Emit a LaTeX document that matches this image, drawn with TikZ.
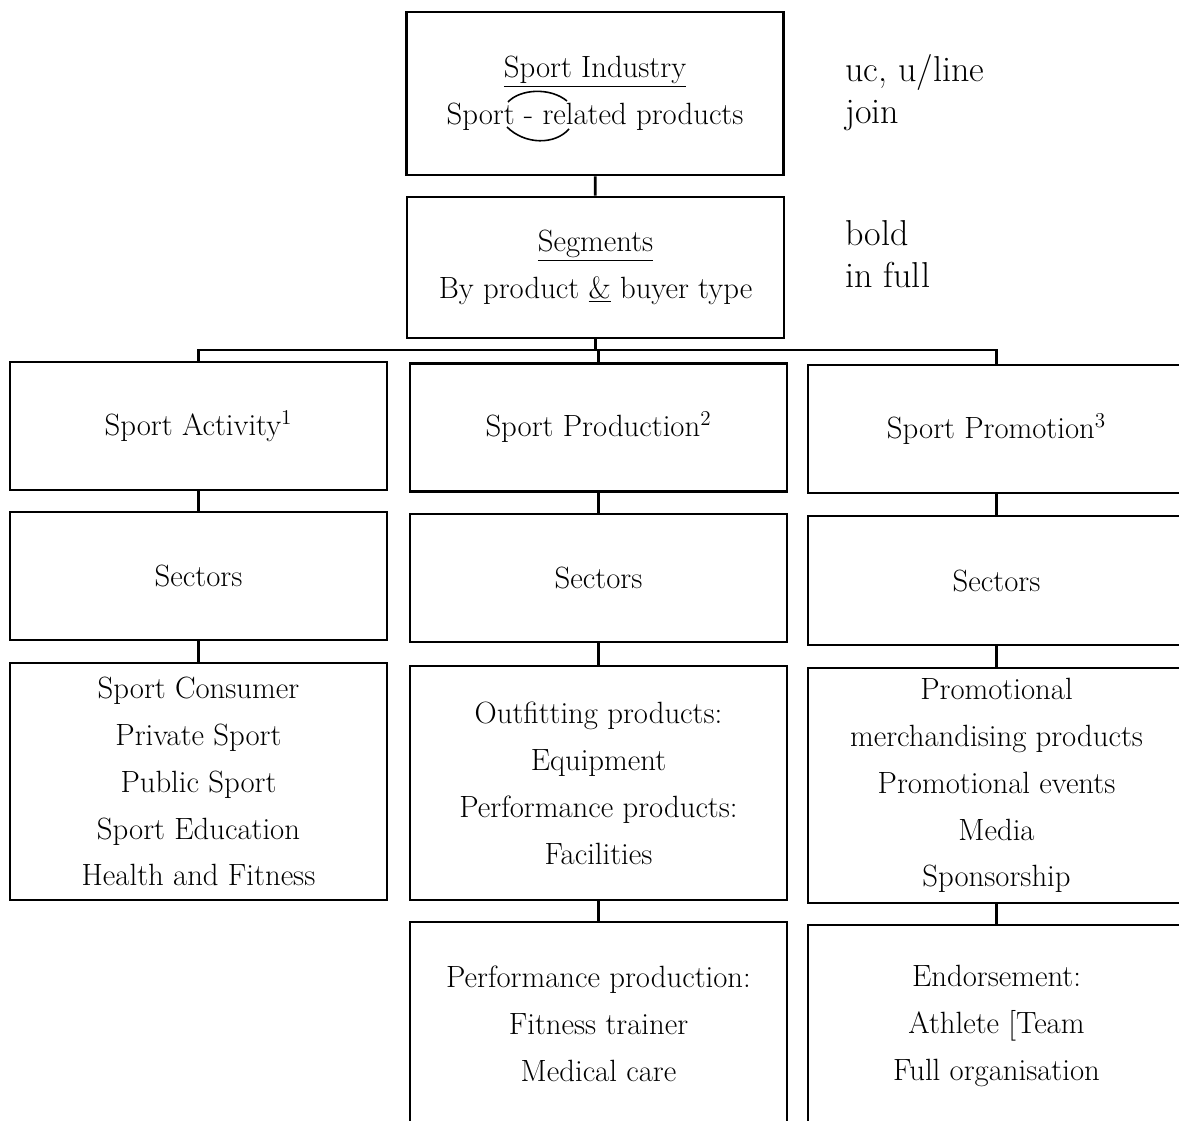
\documentclass[tikz,border=0pt]{standalone}
\usepackage{fontspec}
\tikzset{
  box/.style={draw, line width=1.6pt, align=center, inner sep=0pt, minimum width=7.54cm,
    font=\fontsize{17.5}{26.7}\selectfont},
  link/.style={line width=1.6pt},
  note/.style={align=left, anchor=west, inner sep=0pt, font=\fontsize{20.5}{24}\selectfont},
  joinmark/.style={line width=0.9pt}
}
\begin{document}
\begin{tikzpicture}[x=0.02cm,y=-0.02cm]
	\useasboundingbox (0,0) rectangle (1179,1121);
	\clip (0,0) rectangle (1179,1121);
	%=========== top, industry and segments ===========================
	\node[box, minimum height=3.26cm] (ind) at (595,93.5) {\underline{Sport Industry}\\Sport - related products};
	\node[box, minimum height=2.82cm] (seg) at (595.5,267.5) {\underline{Segments}\\By product \underline{\&} buyer type};
	\draw[joinmark] (508,102) .. controls (520,89) and (550,87) .. (567,101);
	\draw[joinmark] (507,127) .. controls (525,145) and (555,145) .. (569,129);
	\node[note] (uc) at (845,93) {uc, u/line\\join};
	\node[note] (bold) at (845,254) {bold\\in full};
	%=========== three segments, from left to right ===========================
	\node[box, minimum height=2.56cm] (act) at (198.5,426) {Sport Activity$^1$};
	\node[box, minimum height=2.56cm] (prod) at (598.5,427.5) {Sport Production$^2$};
	\node[box, minimum height=2.56cm] (prom) at (996.5,429) {Sport Promotion$^3$};
	%=========== sectors ===========================
	\node[box, minimum height=2.56cm] (sec1) at (198.5,576) {Sectors};
	\node[box, minimum height=2.56cm] (sec2) at (598.5,578) {Sectors};
	\node[box, minimum height=2.58cm] (sec3) at (996.5,580.5) {Sectors};
	%=========== lists ===========================
	\node[box, minimum height=4.74cm] (lst1) at (198.5,781.5) {Sport Consumer\\Private Sport\\Public Sport\\Sport Education\\Health and Fitness};
	\node[box, minimum height=4.68cm] (lst2) at (598.5,783) {Outfitting products:\\Equipment\\Performance products:\\Facilities};
	\node[box, minimum height=4.7cm] (lst3) at (996.5,785.5) {Promotional\\merchandising products\\Promotional events\\Media\\Sponsorship};
	\node[box, minimum height=4.08cm] (bot2) at (598.5,1024) {Performance production:\\Fitness trainer\\Medical care};
	\node[box, minimum height=4.04cm] (bot3) at (996.5,1026) {Endorsement:\\Athlete [Team\\Full organisation};
	%=========== connectors ===========================
	\coordinate (bar) at (597,350);
	\draw[link] (ind) -- (seg);
	\draw[link] (seg.south) -- (seg.south |- bar);
	\draw[link] (act.north) |- (bar) -| (prom.north);
	\draw[link] (prod.north) -- (prod.north |- bar);
	\draw[link] (act) -- (sec1);
	\draw[link] (sec1) -- (lst1);
	\draw[link] (prod) -- (sec2);
	\draw[link] (sec2) -- (lst2);
	\draw[link] (lst2) -- (bot2);
	\draw[link] (prom) -- (sec3);
	\draw[link] (sec3) -- (lst3);
	\draw[link] (lst3) -- (bot3);
\end{tikzpicture}
\end{document}
